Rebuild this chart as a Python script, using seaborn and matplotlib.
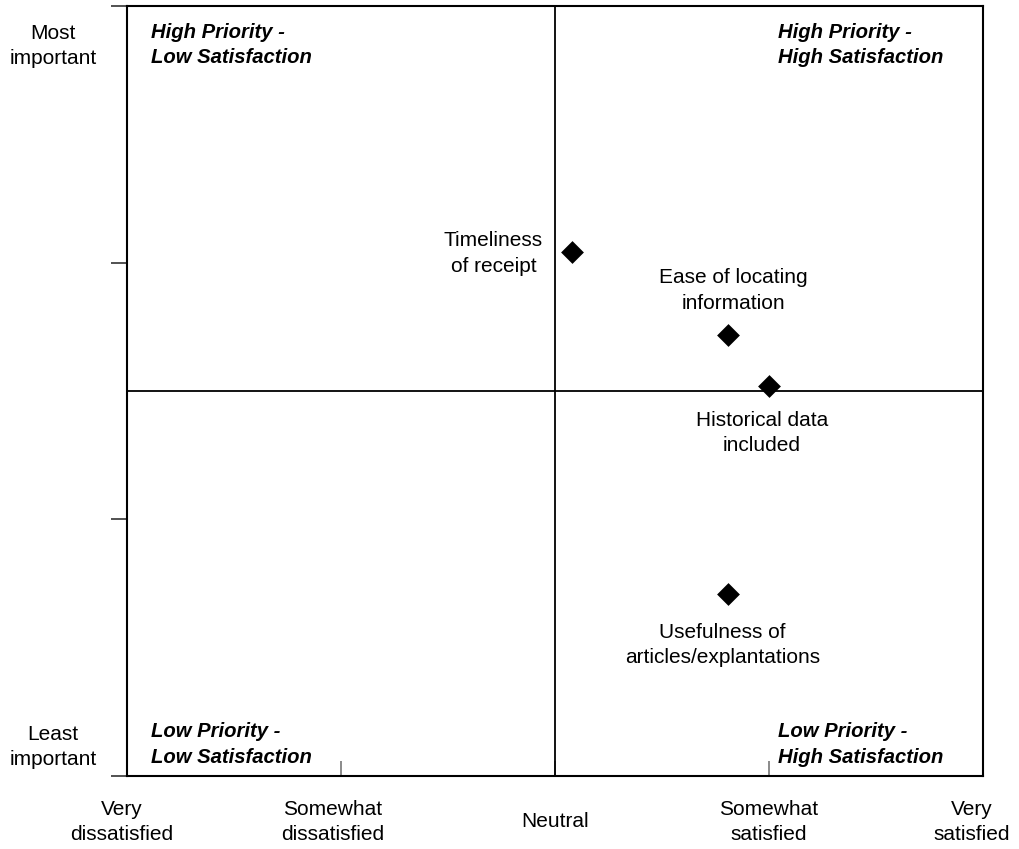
import matplotlib
import matplotlib.pyplot as plt
import matplotlib.transforms as mtransforms
import pandas as pd
import seaborn as sns

matplotlib.use("agg")

# data
attributes = [
    "Timeliness\nof receipt",
    "Ease of locating\ninformation",
    "Historical data\nincluded",
    "Usefulness of\narticles/explantations",
]
satisfaction = [3.08, 3.81, 4.00, 3.81]
importance = [2.04, 1.72, 1.52, 0.71]

satisfaction_ticks = [1, 2, 3, 4, 5]
satisfaction_labels = [
    "Very\ndissatisfied",
    "Somewhat\ndissatisfied",
    "Neutral",
    "Somewhat\nsatisfied",
    "Very\nsatisfied",
]
importance_ticks = [0, 1, 2, 3]
importance_low = "Least\nimportant"
importance_high = "Most\nimportant"
midpoint_x = 3
midpoint_y = 1.5

quadrant_labels = [
    "High Priority -\nLow Satisfaction",
    "High Priority -\nHigh Satisfaction",
    "Low Priority -\nLow Satisfaction",
    "Low Priority -\nHigh Satisfaction",
]

# label placement (pixels), styling only
point_label_offsets = [(-29, -1), (5, 44), (-7, -47), (-6, -51)]
point_label_ha = ["right", "center", "center", "center"]
xlabel_shift_px = [(-5, 0), (-8, 0), (0, -12), (0, 0), (-11, 0)]
quadrant_pos = [(0.028, 0.978, "top"), (0.760, 0.978, "top"),
                (0.028, 0.012, "bottom"), (0.760, 0.012, "bottom")]
LS = 1.42
FS = 15


def main():
    sns.set_theme(style="white")
    plt.rcParams["font.family"] = ["Liberation Sans", "DejaVu Sans"]

    df = pd.DataFrame(
        {"attribute": attributes, "satisfaction": satisfaction, "importance": importance}
    )

    fig = plt.figure(figsize=(10.19, 8.49), dpi=100)
    ax = fig.add_axes([0.1246, 0.0860, 0.8401, 0.9069])

    ax.axhline(midpoint_y, color="black", lw=1.3, zorder=1)
    ax.axvline(midpoint_x, color="black", lw=1.3, zorder=1)

    sns.scatterplot(
        data=df, x="satisfaction", y="importance", marker="D", s=135,
        color="black", edgecolor="black", linewidth=0, ax=ax, zorder=3,
    )

    for (name, xv, yv), off, ha in zip(
        df[["attribute", "satisfaction", "importance"]].itertuples(index=False),
        point_label_offsets, point_label_ha,
    ):
        ax.annotate(
            name, (xv, yv), xytext=off, textcoords="offset pixels",
            ha=ha, va="center", multialignment="center", fontsize=FS,
            color="black", linespacing=LS,
        )

    for text, (qx, qy, va) in zip(quadrant_labels, quadrant_pos):
        ax.text(
            qx, qy, text, transform=ax.transAxes, ha="left", va=va,
            fontsize=14.6, fontweight="bold", fontstyle="italic", color="black",
            linespacing=LS,
        )

    ax.set_xlim(satisfaction_ticks[0], satisfaction_ticks[-1])
    ax.set_ylim(importance_ticks[0], importance_ticks[-1])

    ax.set_xticks(satisfaction_ticks)
    ax.set_xticklabels(satisfaction_labels, fontsize=FS, color="black")
    ax.set_yticks(importance_ticks)
    ax.set_yticklabels([])
    ax.tick_params(axis="x", direction="in", length=11, width=1.2,
                   color="#777777", pad=17, bottom=True)
    ax.tick_params(axis="y", direction="out", length=11.5, width=1.2,
                   color="#333333", left=True)

    for lab, (dx, dy) in zip(ax.get_xticklabels(), xlabel_shift_px):
        lab.set_linespacing(LS)
        lab.set_transform(lab.get_transform()
                          + mtransforms.Affine2D().translate(dx, dy))

    ax.text(-0.0863, 0.9765, importance_high, transform=ax.transAxes,
            ha="center", va="top", fontsize=FS, color="black", linespacing=LS)
    ax.text(-0.0863, 0.0090, importance_low, transform=ax.transAxes,
            ha="center", va="bottom", fontsize=FS, color="black", linespacing=LS)

    ax.set_xlabel("")
    ax.set_ylabel("")
    for spine in ax.spines.values():
        spine.set_visible(True)
        spine.set_color("black")
        spine.set_linewidth(1.5)

    fig.savefig("out.png", dpi=100, facecolor="white")


if __name__ == "__main__":
    main()
